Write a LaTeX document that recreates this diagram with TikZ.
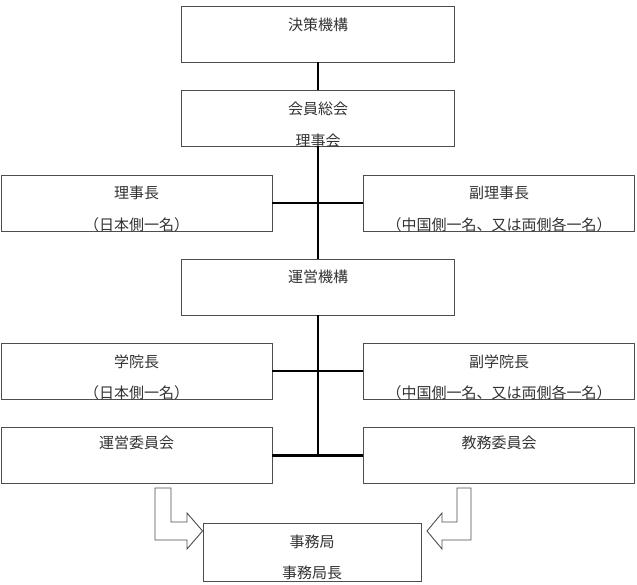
\documentclass[tikz,border=0pt]{standalone}
\usepackage{fontspec}
\setmainfont{Noto Sans CJK JP}
\usepackage{tikz}
\usepackage{xcolor}
\usetikzlibrary{positioning,calc}
\definecolor{OrgLine}{HTML}{4D4D4D}
\definecolor{OrgText}{HTML}{333333}
\tikzset{
    % Base box style
    basebox/.style={
        draw=OrgLine,
        fill=white,
        line width=0.9pt,
        minimum width=273pt,
        minimum height=56pt,
        inner sep=0pt
    },
    % Side boxes (left and right columns)
    sidebox/.style={
        basebox,
        minimum width=271pt
    },
    % Office box at the bottom
    officebox/.style={
        basebox,
        minimum width=218pt,
        minimum height=58pt
    },
    % Box text
    boxtext/.style={
        text=OrgText,
        inner sep=0pt,
        font=\fontsize{15pt}{18pt}\selectfont
    },
    % Thick connector
    linkline/.style={
        line width=2.6pt,
        draw=black
    },
    % Hollow block arrow
    blockarrow/.style={
        draw=OrgLine,
        fill=white,
        line width=0.9pt,
        line join=miter
    }
}
\begin{document}
\begin{tikzpicture}[x=1pt, y=-1pt]
        \useasboundingbox (0,0) rectangle (637,585);

        % Boxes
        \node[basebox] (decision) at (318,34) {};
        \node[basebox] (assembly) at (318,118) {};
        \node[sidebox] (chair) at (136.5,203) {};
        \node[sidebox] (vicechair) at (499,203) {};
        \node[basebox] (operation) at (318,287) {};
        \node[sidebox] (dean) at (136.5,371) {};
        \node[sidebox] (vicedean) at (499,371) {};
        \node[sidebox] (opcommittee) at (136.5,455.5) {};
        \node[sidebox] (educommittee) at (499,455.5) {};
        \node[officebox] (office) at (312,552) {};

        % Texts
        \node[boxtext] (decisionA) at ([yshift=-19pt]decision.north) {決策機構};
        \node[boxtext] (assemblyA) at ([yshift=-19pt]assembly.north) {会員総会};
        \node[boxtext] (assemblyB) at ([yshift=-51pt]assembly.north) {理事会};
        \node[boxtext] (chairA) at ([yshift=-18pt]chair.north) {理事長};
        \node[boxtext] (chairB) at ([yshift=-50pt]chair.north) {（日本側一名）};
        \node[boxtext] (vicechairA) at ([yshift=-18pt]vicechair.north) {副理事長};
        \node[boxtext] (vicechairB) at ([yshift=-50pt]vicechair.north) {（中国側一名、又は両側各一名）};
        \node[boxtext] (operationA) at ([yshift=-18pt]operation.north) {運営機構};
        \node[boxtext] (deanA) at ([yshift=-19pt]dean.north) {学院長};
        \node[boxtext] (deanB) at ([yshift=-50pt]dean.north) {（日本側一名）};
        \node[boxtext] (vicedeanA) at ([yshift=-19pt]vicedean.north) {副学院長};
        \node[boxtext] (vicedeanB) at ([yshift=-50pt]vicedean.north) {（中国側一名、又は両側各一名）};
        \node[boxtext] (opcommitteeA) at ([yshift=-16pt]opcommittee.north) {運営委員会};
        \node[boxtext] (educommitteeA) at ([yshift=-16pt]educommittee.north) {教務委員会};
        \node[boxtext] (officeA) at ([yshift=-19pt]office.north) {事務局};
        \node[boxtext] (officeB) at ([yshift=-50pt]office.north) {事務局長};

        % Connectors
        \draw[linkline] (decision) -- (assembly);
        \draw[linkline] (assembly) -- (operation);
        \draw[linkline] (chair) -- (vicechair);
        \draw[linkline] (operation.south) -- (operation.south |- opcommittee.east);
        \draw[linkline] (dean) -- (vicedean);
        \draw[linkline] (opcommittee) -- (educommittee);

        % Block arrows
        \draw[blockarrow] (155,488) -- (171,488) -- (171,522) -- (187,522) -- (187,513)
            -- (office.west |- 0,531) -- (187,549) -- (187,540) -- (155,540) -- cycle;
        \draw[blockarrow] (471,488) -- (457,488) -- (457,522) -- (442,522) -- (442,513)
            -- (427,531) -- (442,549) -- (442,540) -- (471,540) -- cycle;
    \end{tikzpicture}
\end{document}
